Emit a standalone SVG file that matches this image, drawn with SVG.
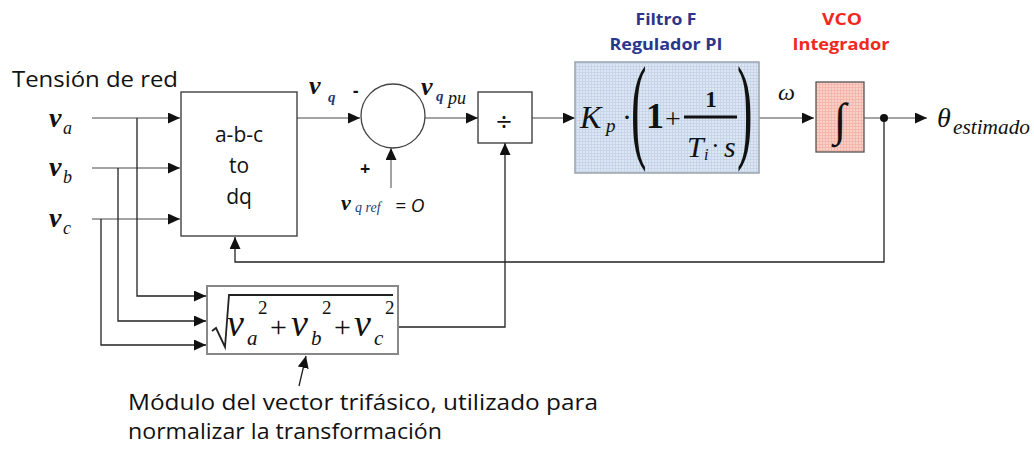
<svg xmlns="http://www.w3.org/2000/svg" width="1034" height="453" viewBox="0 0 1034 453">
<defs>
  <marker id="arr" markerUnits="userSpaceOnUse" markerWidth="13" markerHeight="11" refX="12" refY="5.5" orient="auto">
    <path d="M0,0 L12,5.5 L0,11 z" fill="#111"/>
  </marker>
  <pattern id="gridBlue" width="3" height="3" patternUnits="userSpaceOnUse">
    <rect width="3" height="3" fill="#dde7f3"/>
    <path d="M0,0.5 H3 M0.5,0 V3" stroke="#c3d2e6" stroke-width="0.8"/>
  </pattern>
  <pattern id="gridPink" width="3" height="3" patternUnits="userSpaceOnUse">
    <rect width="3" height="3" fill="#f9cfc6"/>
    <path d="M0,0.5 H3 M0.5,0 V3" stroke="#f2b3a8" stroke-width="0.8"/>
  </pattern>
  <style>
    .gry{fill:none;stroke:#a3a3a3;stroke-width:2}
    .blk{fill:none;stroke:#222;stroke-width:1.3}
    .box{fill:#fff;stroke:#333;stroke-width:1.3}
    .sans{font-family:"Open Sans","Liberation Sans",sans-serif;fill:#111}
    .ser{font-family:"Liberation Serif","Times New Roman",serif;fill:#111}
    .it{font-style:italic}
    .bi{font-style:italic;font-weight:bold}
    .navy{fill:#1f3a78}
    .ttl{font-family:"Open Sans","Liberation Sans",sans-serif;font-weight:bold;font-size:16px;text-anchor:middle}
  </style>
</defs>
<rect width="1034" height="453" fill="#fff"/>

<!-- connectors -->
<g id="connectors">
  <path class="gry" d="M92,118 H180" marker-end="url(#arr)"/>
  <path class="gry" d="M92,168 H180" marker-end="url(#arr)"/>
  <path class="gry" d="M92,219 H180" marker-end="url(#arr)"/>
  <path class="blk" d="M137,118 V296 H206" marker-end="url(#arr)"/>
  <path class="blk" d="M118,168 V321 H206" marker-end="url(#arr)"/>
  <path class="blk" d="M101,219 V345 H206" marker-end="url(#arr)"/>
  <path class="gry" d="M297,118 H360" marker-end="url(#arr)"/>
  <path class="gry" d="M391,188 V148" marker-end="url(#arr)"/>
  <path class="gry" d="M425,118 H478" marker-end="url(#arr)"/>
  <path class="blk" d="M398,327 H505 V143" marker-end="url(#arr)"/>
  <path class="gry" d="M532,118 H575" marker-end="url(#arr)"/>
  <path class="gry" d="M759,118 H814" marker-end="url(#arr)"/>
  <path class="gry" d="M864,118 H927" marker-end="url(#arr)"/>
  <path class="blk" d="M884,118 V262 H235 V237" marker-end="url(#arr)"/>
  <path class="blk" d="M299,386 L306,356" marker-end="url(#arr)"/>
  <circle cx="884" cy="118" r="4" fill="#111"/>
</g>

<!-- input labels -->
<g id="inputs">
  <text class="sans" x="12" y="87" font-size="21" textLength="166" lengthAdjust="spacingAndGlyphs">Tensión de red</text>
  <text class="ser bi" x="49" y="127" font-size="28">v</text>
  <text class="ser it" x="63" y="134" font-size="18">a</text>
  <text class="ser bi" x="49" y="176" font-size="28">v</text>
  <text class="ser it" x="63" y="183" font-size="18">b</text>
  <text class="ser bi" x="49" y="227" font-size="28">v</text>
  <text class="ser it" x="63" y="234" font-size="18">c</text>
</g>

<!-- abc to dq -->
<g id="abc_dq">
  <rect class="box" x="181" y="92" width="116" height="144"/>
  <text class="sans" x="239" y="142" font-size="21" text-anchor="middle">a-b-c</text>
  <text class="sans" x="239" y="173" font-size="21" text-anchor="middle">to</text>
  <text class="sans" x="239" y="204" font-size="21" text-anchor="middle">dq</text>
</g>

<!-- summing junction -->
<g id="sum">
  <circle cx="393" cy="116" r="32" fill="#fff" stroke="#444" stroke-width="1.3"/>
  <text class="ser bi" x="309" y="94" font-size="26">v</text>
  <text class="ser bi navy" x="328" y="102" font-size="15">q</text>
  <text class="sans" x="353" y="97" font-size="17" font-weight="bold">-</text>
  <text class="sans" x="360" y="175" font-size="18" font-weight="bold">+</text>
  <text class="ser bi" x="341" y="210" font-size="22">v</text>
  <text class="ser it navy" x="355" y="212" font-size="14">q ref</text>
  <text class="sans it" x="395" y="212" font-size="19">= O</text>
</g>

<!-- divider -->
<g id="divide">
  <text class="ser bi" x="421" y="95" font-size="26">v</text>
  <text class="ser bi navy" x="436" y="101" font-size="15">q</text>
  <text class="ser it" x="448" y="104" font-size="18">pu</text>
  <rect class="box" x="478" y="92" width="54" height="51"/>
  <text class="sans" x="504" y="131" font-size="28" text-anchor="middle">÷</text>
</g>

<!-- PI -->
<g id="pi">
  <text class="ttl" x="666" y="25" fill="#2b358a" textLength="61" lengthAdjust="spacingAndGlyphs">Filtro F</text>
  <text class="ttl" x="666" y="50" fill="#2b358a" textLength="113" lengthAdjust="spacingAndGlyphs">Regulador PI</text>
  <rect x="575" y="62" width="184" height="111" fill="url(#gridBlue)" stroke="#9aa3ad" stroke-width="1.5"/>
  <text class="ser it" x="580" y="128" font-size="32">K</text>
  <text class="ser it" x="606" y="132" font-size="19">p</text>
  <text class="ser" x="622" y="127" font-size="30">·</text>
  <text class="ser" transform="translate(631,147) scale(0.4,1)" font-size="116">(</text>
  <text class="ser" font-weight="bold" x="646" y="128" font-size="36">1</text>
  <text class="ser" x="665" y="128" font-size="28" fill="#555">+</text>
  <line x1="684" y1="117" x2="737" y2="117" stroke="#111" stroke-width="3"/>
  <text class="ser" font-weight="bold" x="711" y="107" font-size="23" text-anchor="middle">1</text>
  <text class="ser it" x="687" y="157" font-size="30">T</text>
  <text class="ser it" x="704" y="160" font-size="16">i</text>
  <text class="ser" x="711" y="154" font-size="26">·</text>
  <text class="ser it" x="724" y="157" font-size="30">s</text>
  <text class="ser" transform="translate(737,147) scale(0.4,1)" font-size="116">)</text>
  <text class="ser it" x="778" y="100" font-size="24">ω</text>
</g>

<!-- VCO -->
<g id="vco">
  <text class="ttl" x="842" y="25" fill="#f0291c" textLength="40" lengthAdjust="spacingAndGlyphs">VCO</text>
  <text class="ttl" x="841" y="50" fill="#f0291c" textLength="97" lengthAdjust="spacingAndGlyphs">Integrador</text>
  <rect x="816" y="82" width="48" height="70" fill="url(#gridPink)" stroke="#555" stroke-width="1.3"/>
  <text class="ser" x="840" y="135" font-size="46" text-anchor="middle">∫</text>
</g>

<!-- output -->
<g id="output">
  <text class="ser it" x="937" y="127" font-size="28">θ</text>
  <text class="ser it" x="953" y="134" font-size="20" textLength="77" lengthAdjust="spacingAndGlyphs">estimado</text>
</g>

<!-- sqrt -->
<g id="modulo">
  <rect x="207" y="286" width="191" height="68" fill="#fff" stroke="#888" stroke-width="2"/>
  <polyline points="212,331 216,328 225,347 229,295 393,295" fill="none" stroke="#222" stroke-width="1.8"/>
  <text class="ser it" x="227" y="336" font-size="38">v</text>
  <text class="ser it" x="247" y="345" font-size="21">a</text>
  <text class="ser" x="258" y="314" font-size="19">2</text>
  <text class="ser" x="270" y="337" font-size="30">+</text>
  <text class="ser it" x="291" y="336" font-size="38">v</text>
  <text class="ser it" x="311" y="345" font-size="21">b</text>
  <text class="ser" x="322" y="314" font-size="19">2</text>
  <text class="ser" x="334" y="337" font-size="30">+</text>
  <text class="ser it" x="354" y="336" font-size="38">v</text>
  <text class="ser it" x="374" y="345" font-size="21">c</text>
  <text class="ser" x="385" y="314" font-size="19">2</text>
</g>

<!-- annotation -->
<g id="note">
  <text class="sans" x="128" y="410" font-size="21" textLength="470" lengthAdjust="spacingAndGlyphs">Módulo del vector trifásico, utilizado para</text>
  <text class="sans" x="128" y="439" font-size="21" textLength="314" lengthAdjust="spacingAndGlyphs">normalizar la transformación</text>
</g>
</svg>
